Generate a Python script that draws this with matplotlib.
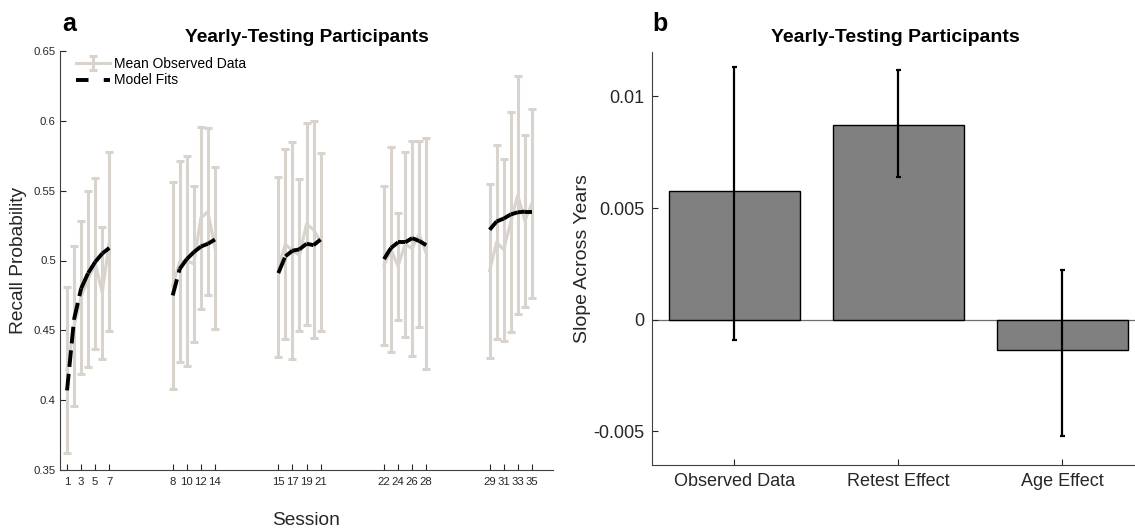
import numpy as np
import matplotlib
matplotlib.use("Agg")
from matplotlib import pyplot as plt
from matplotlib.lines import Line2D

plt.rcParams['font.family'] = ['Liberation Sans', 'DejaVu Sans']
plt.rcParams['lines.scale_dashes'] = False

# ---- panel a data: five yearly groups of seven sessions each ----
sessions = np.arange(1, 36)
mean_obs = [0.4215, 0.4532, 0.4738, 0.4868, 0.4978, 0.4770, 0.5136,
            0.4821, 0.4990, 0.4997, 0.4976, 0.5304, 0.5350, 0.5090,
            0.4956, 0.5117, 0.5070, 0.5039, 0.5260, 0.5221, 0.5135,
            0.4964, 0.5079, 0.4958, 0.5117, 0.5086, 0.5190, 0.5050,
            0.4926, 0.5132, 0.5077, 0.5278, 0.5469, 0.5284, 0.5408]
err_obs = [0.0595, 0.0574, 0.0548, 0.0633, 0.0612, 0.0473, 0.0641,
           0.0743, 0.0719, 0.0752, 0.0557, 0.0654, 0.0597, 0.0583,
           0.0645, 0.0681, 0.0777, 0.0542, 0.0722, 0.0778, 0.0638,
           0.0569, 0.0736, 0.0384, 0.0663, 0.0770, 0.0668, 0.0829,
           0.0622, 0.0696, 0.0653, 0.0788, 0.0852, 0.0615, 0.0678]
model_fit = [0.407, 0.458, 0.480, 0.491, 0.499, 0.505, 0.509,
             0.475, 0.494, 0.501, 0.506, 0.510, 0.512, 0.515,
             0.491, 0.503, 0.507, 0.508, 0.512, 0.511, 0.515,
             0.501, 0.509, 0.513, 0.513, 0.516, 0.514, 0.511,
             0.522, 0.528, 0.530, 0.533, 0.5345, 0.535, 0.535]
session_ticks = [1, 3, 5, 7, 8, 10, 12, 14, 15, 17, 19, 21,
                 22, 24, 26, 28, 29, 31, 33, 35]

# ---- panel b data ----
effects = ['Observed Data', 'Retest Effect', 'Age Effect']
slopes = [0.00578, 0.0087, -0.00134]
ci_low = [-0.000925, 0.00639, -0.00519]
ci_high = [0.01131, 0.01119, 0.00221]

obs_gray = '#d8d4cd'
axis_col = '#404040'
text_col = '#262626'


def session_pos(s):
    # gap of 8 units between yearly groups
    return s + 8 * ((s - 1) // 7)


fig = plt.figure(figsize=(11.35, 5.29), dpi=100)

# ---------------- panel a ----------------
ax = fig.add_axes([60 / 1135, 1 - 470 / 529, 493 / 1135, 419 / 529])
mean_obs = np.array(mean_obs)
err_obs = np.array(err_obs)
model_fit = np.array(model_fit)
xpos = np.array([session_pos(s) for s in sessions])

eb_handle = None
for g in range(5):
    idx = slice(7 * g, 7 * g + 7)
    eb = ax.errorbar(xpos[idx], mean_obs[idx], yerr=err_obs[idx], color=obs_gray,
                     lw=2.2, elinewidth=2.2, capsize=2.6, capthick=2.2, zorder=2)
    if eb_handle is None:
        eb_handle = eb
    # model fit drawn segment by segment, dash pattern restarting each time
    for i in range(7 * g, 7 * g + 6):
        ax.plot(xpos[i:i + 2], model_fit[i:i + 2], color='black', lw=2.8,
                linestyle=(0, (12, 5)), dash_capstyle='butt', zorder=3)

model_handle = Line2D([], [], color='black', lw=2.8, linestyle=(0, (9, 11)))
ax.legend([eb_handle, model_handle], ['Mean Observed Data', 'Model Fits'],
          loc='upper left', bbox_to_anchor=(0.032, 0.985), frameon=False,
          fontsize=10, handlelength=2.45, handletextpad=0.3,
          labelspacing=0.15, borderpad=0, borderaxespad=0)

ax.set_xlim(0, 70)
ax.set_ylim(0.35, 0.65)
ax.set_xticks([session_pos(s) for s in session_ticks])
ax.set_xticklabels([str(s) for s in session_ticks])
ax.set_yticks([0.35, 0.4, 0.45, 0.5, 0.55, 0.6, 0.65])
ax.set_yticklabels(['0.35', '0.4', '0.45', '0.5', '0.55', '0.6', '0.65'])
ax.tick_params(direction='in', length=4, width=0.8, labelsize=8.2,
               colors=text_col, pad=3)
ax.tick_params(axis='x', pad=5)
for side in ['top', 'right']:
    ax.spines[side].set_visible(False)
for side in ['left', 'bottom']:
    ax.spines[side].set_color(axis_col)
    ax.spines[side].set_linewidth(0.8)
ax.set_ylabel('Recall Probability', fontsize=13.8, color=text_col)
ax.yaxis.set_label_coords(-0.066, 0.5)
ax.set_xlabel('Session', fontsize=13.8, color=text_col)
ax.xaxis.set_label_coords(0.5, -0.1)
ax.set_title('Yearly-Testing Participants', fontsize=13.8, fontweight='bold', pad=6.5)

# ---------------- panel b ----------------
bx = fig.add_axes([652.4 / 1135, 1 - 465 / 529, (1135 - 652.4) / 1135, 413.3 / 529])
xb = np.arange(1, len(effects) + 1)
slopes = np.array(slopes)
yerr_b = np.array([slopes - np.array(ci_low), np.array(ci_high) - slopes])
bx.axhline(0, color='#6e6e6e', lw=0.9, zorder=1)
bx.bar(xb, slopes, width=0.8, color='#808080', edgecolor='black', lw=1, zorder=2)
bx.errorbar(xb, slopes, yerr=yerr_b, fmt='none', ecolor='black', elinewidth=1.6,
            capsize=1.8, capthick=1.6, zorder=3)
bx.set_xlim(0.5, 0.5 + (1135 - 652.4) / 164.0)
bx.set_ylim(-0.0065, 0.012)
bx.set_xticks(xb)
bx.set_xticklabels(effects)
bx.set_yticks([-0.005, 0, 0.005, 0.01])
bx.set_yticklabels(['-0.005', '0', '0.005', '0.01'])
bx.tick_params(direction='in', length=4, width=0.8, labelsize=13,
               colors=text_col, pad=6)
for side in ['top', 'right']:
    bx.spines[side].set_visible(False)
for side in ['left', 'bottom']:
    bx.spines[side].set_color(axis_col)
    bx.spines[side].set_linewidth(0.8)
bx.set_ylabel('Slope Across Years', fontsize=14, color=text_col)
bx.yaxis.set_label_coords(-0.128, 0.5)
bx.set_title('Yearly-Testing Participants', fontsize=14, fontweight='bold',
             pad=7, x=(895 - 652.4) / (1135 - 652.4))

fig.text(62 / 1135, 1 - 31 / 529, 'a', fontsize=18, fontweight='bold')
fig.text(652 / 1135, 1 - 31 / 529, 'b', fontsize=18, fontweight='bold')

fig.savefig('out.png', dpi=100)
